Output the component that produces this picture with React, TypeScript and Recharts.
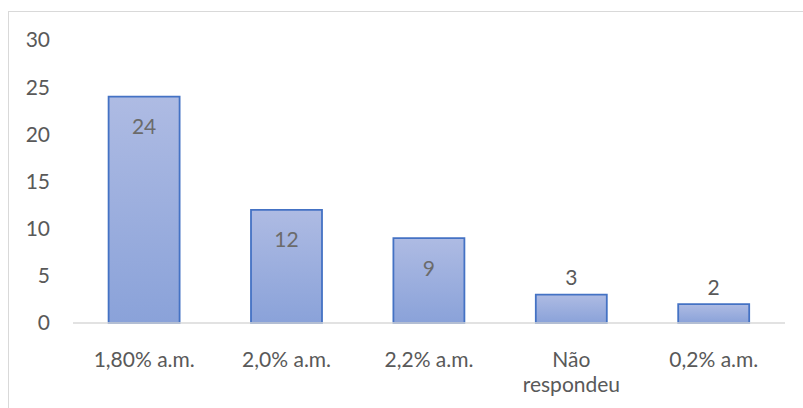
import { BarChart, Bar, XAxis, YAxis, LabelList } from 'recharts';

const categorias = ['1,80% a.m.', '2,0% a.m.', '2,2% a.m.', 'Não respondeu', '0,2% a.m.'];
const respostas = [24, 12, 9, 3, 2];
const yTicks = [0, 5, 10, 15, 20, 25, 30];

const data = categorias.map((nome, i) => ({ nome, valor: respostas[i] }));

const FONT = 'Lato, "Open Sans", sans-serif';
const FONT_SIZE = 21;
const TEXT_COLOR = '#595959';
const MAX_LABEL_WIDTH = 118;

let ctx: CanvasRenderingContext2D | null = null;
const measure = (s: string) => {
  if (!ctx) {
    ctx = document.createElement('canvas').getContext('2d');
  }
  if (!ctx) return s.length * FONT_SIZE * 0.5;
  ctx.font = `${FONT_SIZE}px ${FONT}`;
  return ctx.measureText(s).width;
};

// quebra o texto em linhas que caibam na largura disponível
const wrapWords = (label: string) => {
  const lines: string[] = [];
  let current = '';
  for (const word of label.split(' ')) {
    const test = current ? `${current} ${word}` : word;
    if (current && measure(test) > MAX_LABEL_WIDTH) {
      lines.push(current);
      current = word;
    } else {
      current = test;
    }
  }
  if (current) lines.push(current);
  return lines;
};

const CategoryTick = (props: any) => {
  const { x, y, payload } = props;
  const lines = wrapWords(String(payload.value));
  return (
    <text
      x={x}
      y={y + 35}
      textAnchor="middle"
      fill={TEXT_COLOR}
      style={{ fontSize: FONT_SIZE, fontFamily: FONT }}
    >
      {lines.map((line, i) => (
        <tspan key={i} x={x} dy={i === 0 ? 0 : 25} dominantBaseline="central">
          {line}
        </tspan>
      ))}
    </text>
  );
};

// valor dentro da barra quando cabe, senão acima dela
const ValueLabel = (props: any) => {
  const { x, y, width, height, value } = props;
  const inside = height > 50;
  return (
    <text
      x={x + width / 2}
      y={inside ? y + 29 : y - 18}
      textAnchor="middle"
      dominantBaseline="central"
      fill={inside ? '#6b6b6b' : TEXT_COLOR}
      style={{ fontSize: FONT_SIZE, fontFamily: FONT }}
    >
      {value}
    </text>
  );
};

export default function App() {
  return (
    <div
      style={{
        position: 'fixed',
        left: 8,
        top: 11,
        width: 803,
        height: 408,
        borderTop: '1px solid #d9d9d9',
        borderLeft: '1px solid #d9d9d9',
        background: '#fff',
      }}
    >
      <BarChart
        width={795}
        height={397}
        data={data}
        margin={{ top: 28, right: 19, bottom: 0, left: 0 }}
        barCategoryGap="25%"
      >
        <defs>
          <linearGradient id="barFill" x1="0" y1="0" x2="0" y2="1">
            <stop offset="0%" stopColor="#aebbe3" />
            <stop offset="100%" stopColor="#8aa2d9" />
          </linearGradient>
        </defs>
        <XAxis
          dataKey="nome"
          height={86}
          interval={0}
          tickLine={false}
          tickSize={0}
          tickMargin={0}
          axisLine={{ stroke: '#d9d9d9', strokeWidth: 1.5 }}
          tick={<CategoryTick />}
        />
        <YAxis
          width={64}
          domain={[0, 30]}
          ticks={yTicks}
          axisLine={false}
          tickLine={false}
          tickSize={0}
          tickMargin={23}
          tick={{ fill: TEXT_COLOR, fontSize: FONT_SIZE, fontFamily: FONT }}
        />
        <Bar
          dataKey="valor"
          fill="url(#barFill)"
          stroke="#4472c4"
          strokeWidth={1.8}
          isAnimationActive={false}
        >
          <LabelList dataKey="valor" content={<ValueLabel />} />
        </Bar>
      </BarChart>
    </div>
  );
}
